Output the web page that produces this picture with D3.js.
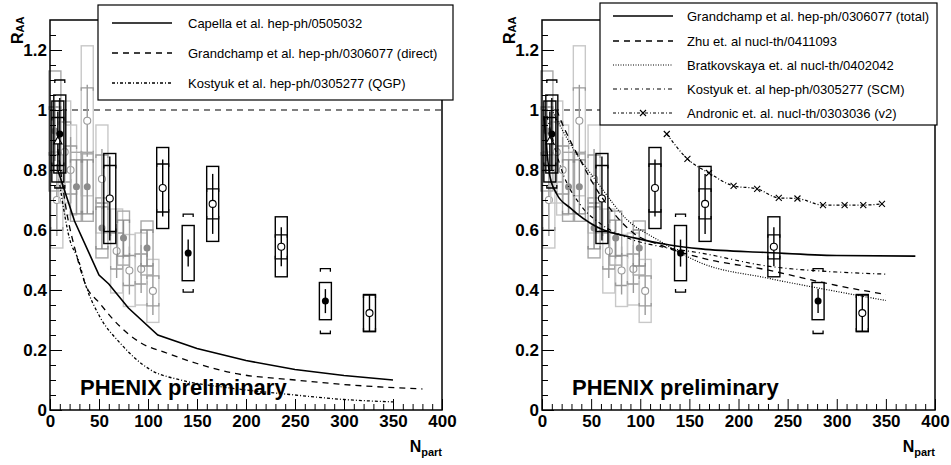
<!DOCTYPE html>
<html>
<head>
<meta charset="utf-8">
<script src="https://cdn.jsdelivr.net/npm/d3@7"></script>
<style>
  body { margin: 0; background: #fff; }
  text { font-family: "Liberation Sans", Arial, sans-serif; }
</style>
</head>
<body>
<script>
// ---- measured points (R_AA vs Npart) ----
// Cu+Cu mid rapidity (open, gray)
var cuMidNpart = [7, 15, 21, 38, 53, 68, 81, 93, 105];
var cuMidR     = [0.70, 0.86, 0.80, 0.964, 0.77, 0.53, 0.465, 0.47, 0.397];
var cuMidStat  = [0.12, 0.14, 0.11, 0.12, 0.10, 0.09, 0.08, 0.08, 0.08];
var cuMidSysB  = [0.10, 0.10, 0.08, 0.11, 0.08, 0.06, 0.05, 0.05, 0.05];
var cuMidSysC  = [0.16, 0.17, 0.15, 0.25, 0.18, 0.14, 0.12, 0.12, 0.105];
// Cu+Cu forward rapidity (filled, gray)
var cuFwdNpart = [5, 27, 38, 53, 75, 99];
var cuFwdR     = [0.93, 0.744, 0.744, 0.607, 0.573, 0.54];
var cuFwdStat  = [0.10, 0.09, 0.09, 0.07, 0.06, 0.06];
var cuFwdSysB  = [0.08, 0.09, 0.09, 0.07, 0.06, 0.06];
var cuFwdSysC  = [0.20, 0.115, 0.115, 0.10, 0.09, 0.09];
// Au+Au mid rapidity (open, black)
var auMidNpart = [61, 115, 166, 236, 326];
var auMidR     = [0.705, 0.74, 0.687, 0.544, 0.323];
var auMidStat  = [0.14, 0.095, 0.10, 0.065, 0.06];
var auMidSysB  = [0.11, 0.08, 0.05, 0.04, 0.06];
var auMidSysC  = [0.15, 0.135, 0.125, 0.10, 0.062];
// Au+Au forward rapidity (filled, black)
var auFwdNpart = [10, 141, 281];
var auFwdR     = [0.92, 0.523, 0.363];
var auFwdStat  = [0.12, 0.045, 0.04];
var auFwdSysB  = [0.18, 0.13, 0.108];
var auFwdSysC  = [0.13, 0.092, 0.062];
// most peripheral (open triangle)
var perNpart = [8];
var perR     = [0.895];
var perStat  = [0.10];
var perSysB  = [0.08];
var perSysC  = [0.135];

// ---- model curves ----
var capellaNpart = [8, 25, 50, 60, 80, 110, 150, 200, 250, 300, 350];
var capellaR     = [0.80, 0.63, 0.45, 0.42, 0.34, 0.25, 0.205, 0.165, 0.135, 0.115, 0.10];
var grandDirNpart = [8, 17, 26, 36, 51, 65, 92, 119, 150, 184, 250, 300, 380];
var grandDirR     = [0.87, 0.66, 0.53, 0.42, 0.355, 0.30, 0.225, 0.19, 0.155, 0.125, 0.10, 0.085, 0.07];
var kostQgpNpart = [10, 20, 29, 36, 51, 71, 102, 133, 180, 250, 300, 350];
var kostQgpR     = [0.75, 0.57, 0.50, 0.42, 0.31, 0.225, 0.135, 0.10, 0.075, 0.05, 0.035, 0.027];

var grandTotNpart = [2, 8, 15, 29, 56, 95, 130, 162, 229, 300, 380];
var grandTotR     = [0.98, 0.78, 0.72, 0.673, 0.61, 0.573, 0.55, 0.537, 0.525, 0.515, 0.513];
var zhuNpart = [15, 19, 39, 56, 73, 93, 120, 162, 229, 300, 350];
var zhuR     = [1.0, 0.967, 0.833, 0.733, 0.656, 0.59, 0.55, 0.507, 0.467, 0.415, 0.385];
var bratNpart = [10, 30, 56, 87, 118, 162, 229, 300, 350];
var bratR     = [1.0, 0.88, 0.76, 0.633, 0.567, 0.49, 0.44, 0.395, 0.365];
var kostScmNpart = [5, 20, 40, 60, 90, 120, 162, 229, 300, 350];
var kostScmR     = [0.98, 0.80, 0.68, 0.62, 0.57, 0.545, 0.523, 0.48, 0.46, 0.453];
var andronicNpart = [127, 148, 170, 195, 219, 241, 260, 286, 308, 327, 346];
var andronicR     = [0.92, 0.837, 0.79, 0.747, 0.737, 0.707, 0.705, 0.683, 0.683, 0.683, 0.687];

var leftLabels = ["Capella et al. hep-ph/0505032",
                  "Grandchamp et al. hep-ph/0306077 (direct)",
                  "Kostyuk et al. hep-ph/0305277 (QGP)"];
var rightLabels = ["Grandchamp et al. hep-ph/0306077 (total)",
                   "Zhu et. al nucl-th/0411093",
                   "Bratkovskaya et. al nucl-th/0402042",
                   "Kostyuk et. al hep-ph/0305277 (SCM)",
                   "Andronic et. al. nucl-th/0303036 (v2)"];

var xMajorTicks = [0, 50, 100, 150, 200, 250, 300, 350, 400];
var yMajorTicks = [0, 0.2, 0.4, 0.6, 0.8, 1, 1.2];

var FONT = "'Liberation Sans', Arial, sans-serif";

var svg = d3.select("body").append("svg")
    .attr("width", 951)
    .attr("height", 465);

var series = [
    {n: cuMidNpart, r: cuMidR, stat: cuMidStat, b: cuMidSysB, c: cuMidSysC, box: "#c8c8c8", bar: "#9a9a9a", mark: "open", out: false},
    {n: cuFwdNpart, r: cuFwdR, stat: cuFwdStat, b: cuFwdSysB, c: cuFwdSysC, box: "#a8a8a8", bar: "#8c8c8c", mark: "fill", out: false},
    {n: perNpart, r: perR, stat: perStat, b: perSysB, c: perSysC, box: "#000", bar: "#000", mark: "tri", out: false},
    {n: auMidNpart, r: auMidR, stat: auMidStat, b: auMidSysB, c: auMidSysC, box: "#000", bar: "#000", mark: "open", out: false},
    {n: auFwdNpart, r: auFwdR, stat: auFwdStat, b: auFwdSysB, c: auFwdSysC, box: "#000", bar: "#000", mark: "fill", out: true}
];

var panels = [
    {x0: 50, x1: 442,
     legend: {x: 98, y: 5, w: 355, h: 95, lx: 112, tx: 188, rows: [23, 53, 83]},
     labels: leftLabels,
     curves: [
        {n: capellaNpart, r: capellaR, dash: null, w: 1.6, curve: d3.curveLinear},
        {n: grandDirNpart, r: grandDirR, dash: "6,5", w: 1.3, curve: d3.curveMonotoneX},
        {n: kostQgpNpart, r: kostQgpR, dash: "3,2,1,2", w: 1.3, curve: d3.curveMonotoneX}
     ]},
    {x0: 542, x1: 935,
     legend: {x: 600, y: 3, w: 337, h: 122, lx: 613, tx: 687, rows: [16, 41, 65, 89, 113]},
     labels: rightLabels,
     curves: [
        {n: grandTotNpart, r: grandTotR, dash: null, w: 1.6, curve: d3.curveMonotoneX},
        {n: zhuNpart, r: zhuR, dash: "6,5", w: 1.3, curve: d3.curveMonotoneX},
        {n: bratNpart, r: bratR, dash: "1,1.5", w: 1.2, curve: d3.curveMonotoneX},
        {n: kostScmNpart, r: kostScmR, dash: "4,3,1,3", w: 1.2, curve: d3.curveMonotoneX},
        {n: andronicNpart, r: andronicR, dash: "3,2,1,2", w: 1.2, curve: d3.curveMonotoneX, cross: true}
     ]}
];

function crossPath(cx, cy, s) {
    return "M" + (cx - s) + "," + (cy - s) + "L" + (cx + s) + "," + (cy + s) +
           "M" + (cx - s) + "," + (cy + s) + "L" + (cx + s) + "," + (cy - s);
}

panels.forEach(function(p) {
    var x = d3.scaleLinear().domain([0, 400]).range([p.x0, p.x1]);
    var y = d3.scaleLinear().domain([0, 1.3]).range([410, 20]);
    var g = svg.append("g");

    // dashed line at R_AA = 1
    g.append("line")
        .attr("x1", x(0)).attr("x2", x(400))
        .attr("y1", y(1)).attr("y2", y(1))
        .attr("stroke", "#000").attr("stroke-width", 1.2)
        .attr("stroke-dasharray", "6,5");

    // data points
    series.forEach(function(s) {
        var sg = g.append("g");
        s.n.forEach(function(n, i) {
            var cx = x(n), cy = y(s.r[i]);
            // systematic box
            sg.append("rect")
                .attr("x", cx - 6).attr("width", 12)
                .attr("y", y(s.r[i] + s.c[i]))
                .attr("height", y(s.r[i] - s.c[i]) - y(s.r[i] + s.c[i]))
                .attr("fill", "none").attr("stroke", s.box).attr("stroke-width", 1.4);
            // brackets
            var yt = y(s.r[i] + s.b[i]), yb = y(s.r[i] - s.b[i]);
            var hw = s.out ? 5 : 6;
            sg.append("path")
                .attr("d", "M" + (cx - hw) + "," + (yt + 3) + "V" + yt + "H" + (cx + hw) + "V" + (yt + 3) +
                           "M" + (cx - hw) + "," + (yb - 3) + "V" + yb + "H" + (cx + hw) + "V" + (yb - 3))
                .attr("fill", "none").attr("stroke", s.bar).attr("stroke-width", 1.3);
            // stat bar
            sg.append("line")
                .attr("x1", cx).attr("x2", cx)
                .attr("y1", y(s.r[i] + s.stat[i])).attr("y2", y(s.r[i] - s.stat[i]))
                .attr("stroke", s.bar).attr("stroke-width", 1.4);
            // marker
            if (s.mark === "open") {
                sg.append("circle").attr("cx", cx).attr("cy", cy).attr("r", 3.5)
                    .attr("fill", "#fff").attr("stroke", s.bar).attr("stroke-width", 1.1);
            } else if (s.mark === "fill") {
                sg.append("circle").attr("cx", cx).attr("cy", cy).attr("r", 3.5)
                    .attr("fill", s.bar);
            } else {
                sg.append("path")
                    .attr("d", d3.symbol(d3.symbolTriangle).size(30)())
                    .attr("transform", "translate(" + cx + "," + cy + ")")
                    .attr("fill", "#fff").attr("stroke", "#000").attr("stroke-width", 1.1);
            }
        });
    });

    // model curves
    p.curves.forEach(function(c) {
        var pts = c.n.map(function(n, i) { return [n, c.r[i]]; });
        var line = d3.line()
            .x(function(d) { return x(d[0]); })
            .y(function(d) { return y(d[1]); })
            .curve(c.curve);
        g.append("path")
            .attr("d", line(pts))
            .attr("fill", "none").attr("stroke", "#000")
            .attr("stroke-width", c.w)
            .attr("stroke-dasharray", c.dash);
        if (c.cross) {
            pts.forEach(function(d) {
                g.append("path").attr("d", crossPath(x(d[0]), y(d[1]), 3))
                    .attr("stroke", "#000").attr("stroke-width", 1.1);
            });
        }
    });

    // frame
    g.append("rect")
        .attr("x", x(0)).attr("y", y(1.3))
        .attr("width", x(400) - x(0)).attr("height", y(0) - y(1.3))
        .attr("fill", "none").attr("stroke", "#000").attr("stroke-width", 1.5);

    // axes
    var xAxis = g.append("g").attr("transform", "translate(0," + y(0) + ")")
        .call(d3.axisBottom(x).tickValues(xMajorTicks).tickSize(-11).tickPadding(5)
            .tickFormat(d3.format("d")));
    var xMinor = g.append("g").attr("transform", "translate(0," + y(0) + ")")
        .call(d3.axisBottom(x).tickValues(d3.range(0, 401, 10).filter(function(d) { return d % 50; }))
            .tickSize(-6).tickFormat(""));
    var yAxis = g.append("g").attr("transform", "translate(" + x(0) + ",0)")
        .call(d3.axisLeft(y).tickValues(yMajorTicks).tickSize(-12).tickPadding(3)
            .tickFormat(d3.format("~g")));
    var yMinor = g.append("g").attr("transform", "translate(" + x(0) + ",0)")
        .call(d3.axisLeft(y).tickValues(d3.range(1, 26).map(function(d) { return d * 0.05; })
                .filter(function(d, i) { return (i + 1) % 4 !== 0; }))
            .tickSize(-6).tickFormat(""));
    [xAxis, xMinor, yAxis, yMinor].forEach(function(a) {
        a.select(".domain").remove();
        a.attr("font-family", FONT).attr("font-size", 17).attr("font-weight", "bold");
        a.selectAll("line").attr("stroke", "#000");
        a.selectAll("text").attr("fill", "#000");
    });

    // axis titles
    var yt = g.append("text")
        .attr("transform", "translate(" + (x(0) - 27) + ",44) rotate(-90)")
        .attr("font-size", 16).attr("font-weight", "bold")
        .text("R");
    yt.append("tspan").attr("font-size", 11).attr("dy", 1).text("AA");

    var xt = g.append("text")
        .attr("x", x(400)).attr("y", 452)
        .attr("text-anchor", "end")
        .attr("font-size", 16).attr("font-weight", "bold")
        .text("N");
    xt.append("tspan").attr("font-size", 11).attr("dy", 4).text("part");

    g.append("text")
        .attr("x", x(0) + 30).attr("y", 395)
        .attr("font-size", 22).attr("font-weight", "bold")
        .text("PHENIX preliminary");

    // legend
    var L = p.legend;
    var lg = g.append("g");
    lg.append("rect")
        .attr("x", L.x).attr("y", L.y).attr("width", L.w).attr("height", L.h)
        .attr("fill", "#fff").attr("stroke", "#000").attr("stroke-width", 1.2);
    p.curves.forEach(function(c, i) {
        var ry = L.rows[i];
        lg.append("line")
            .attr("x1", L.lx).attr("x2", L.lx + 60)
            .attr("y1", ry).attr("y2", ry)
            .attr("stroke", "#000").attr("stroke-width", c.w)
            .attr("stroke-dasharray", c.dash);
        if (c.cross) {
            lg.append("path").attr("d", crossPath(L.lx + 30, ry, 3))
                .attr("stroke", "#000").attr("stroke-width", 1.1);
        }
        lg.append("text")
            .attr("x", L.tx).attr("y", ry + 4.5)
            .attr("font-size", 13)
            .text(p.labels[i]);
    });
});
</script>
</body>
</html>
